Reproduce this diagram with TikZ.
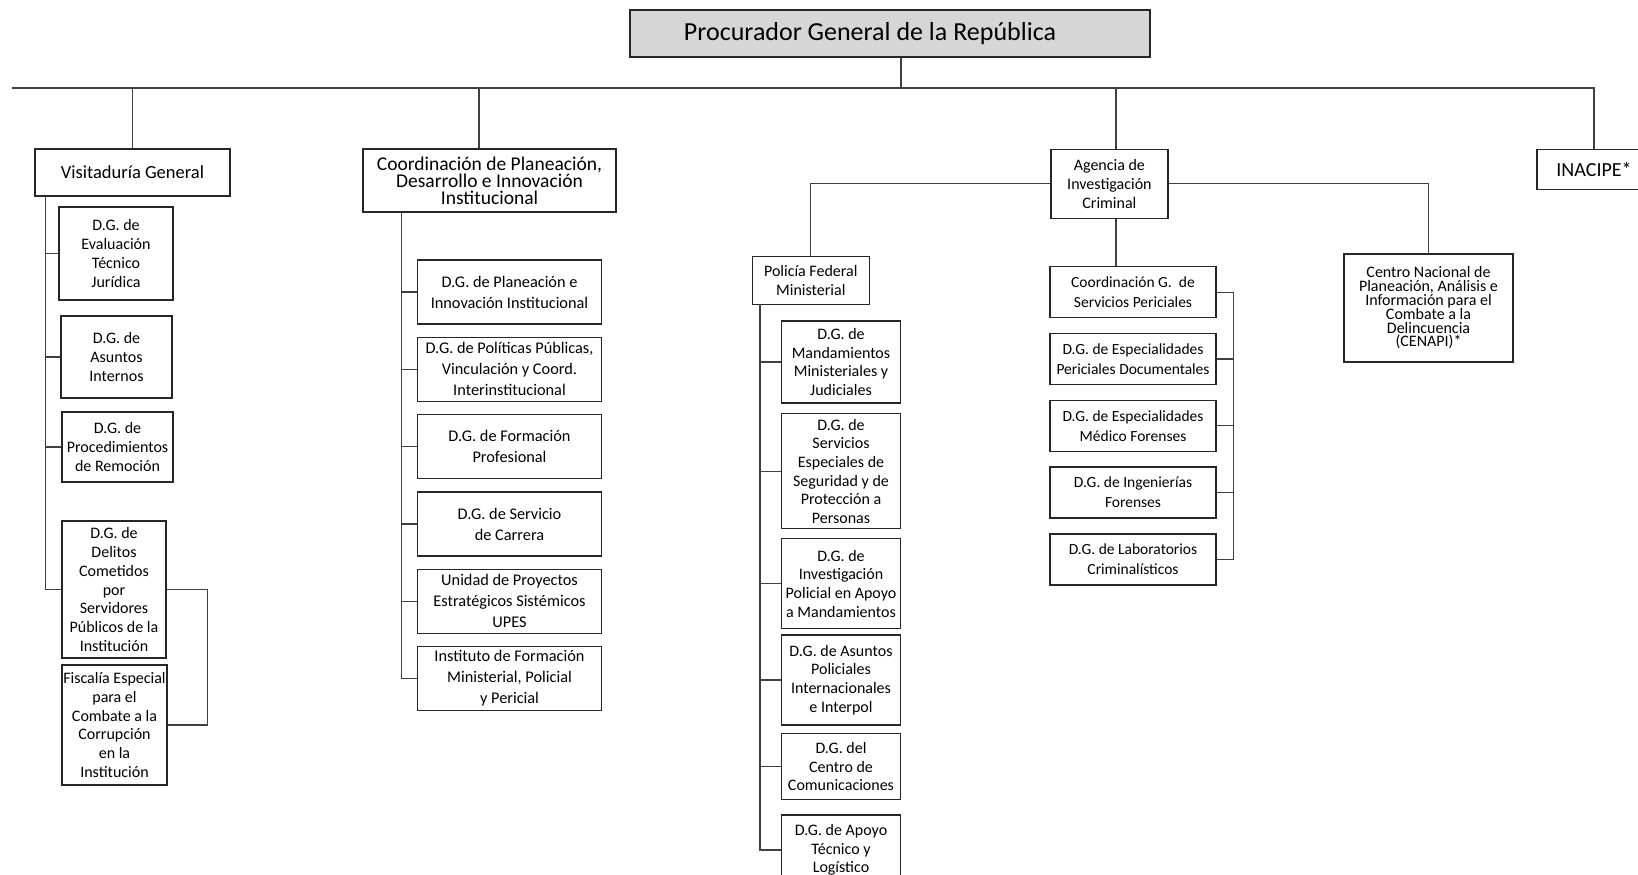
\documentclass[tikz,border=0pt]{standalone}
\usepackage{fontspec}
\setmainfont{Carlito}
\usetikzlibrary{positioning}
\definecolor{chiefgray}{HTML}{D6D6D6}
\tikzset{
  unit/.style={draw=black!85, line width=1.3pt, align=center, inner sep=1pt},
  boxsize/.style 2 args={minimum width=#1, minimum height=#2},
  chief/.style={unit, fill=chiefgray, font=\fontsize{26}{30}\selectfont},
  head/.style={unit, font=\fontsize{18.5}{17}\selectfont},
  leaf/.style={unit, font=\fontsize{16}{18.7}\selectfont},
  leafwide/.style={unit, font=\fontsize{16.3}{21}\selectfont},
  leafsmall/.style={unit, font=\fontsize{15.5}{20}\selectfont},
  link/.style={draw=black!75, line width=1.2pt}
}
\begin{document}
\begin{tikzpicture}[x=1pt, y=-1pt, node distance=12pt]
  \useasboundingbox (0,0) rectangle (1638,875);

  % Bus
  \coordinate (busL) at (12,88);
  \coordinate (d0) at (901,88);
  \coordinate (d1) at (132.5,88);
  \coordinate (d2) at (479,88);
  \coordinate (d3) at (1116,88);
  \coordinate (busR) at (1594,88);

  % Procurador
  \node[chief, boxsize={520pt}{47pt}] (pgr) at (890,33.5) {Procurador General de la República\hspace*{40pt}};

  % Visitaduria
  \node[head, boxsize={195pt}{47pt}] (vg) at (132.5,172.5) {Visitaduría General};
  \node[leaf, boxsize={114pt}{93pt}] (vg1) at (116,253.5) {D.G. de\\Evaluación\\Técnico\\Jurídica};
  \node[leaf, boxsize={111pt}{82pt}] (vg2) at (116.5,357) {D.G. de\\Asuntos\\Internos};
  \node[leaf, boxsize={111pt}{70pt}] (vg3) at (117.5,447) {D.G. de\\Procedimientos\\de Remoción};
  \node[leaf, boxsize={104pt}{137pt}] (vg4) at (114,589.5) {D.G. de\\Delitos\\Cometidos\\por\\Servidores\\Públicos de la\\Institución};
  \node[leaf, boxsize={105pt}{120pt}] (vg5) at (114.5,725) {Fiscalía Especial\\para el\\Combate a la\\Corrupción\\en la\\Institución};

  % Coordinacion de Planeacion
  \node[head, font=\fontsize{19.5}{17}\selectfont, boxsize={253pt}{63pt}] (cp) at (489.5,180.5) {Coordinación de Planeación,\\Desarrollo e Innovación\\Institucional};
  \node[leafwide, boxsize={184pt}{64pt}] (cp1) at (509.5,292) {D.G. de Planeación e\\Innovación Institucional};
  \node[leafwide, boxsize={184pt}{64pt}, below=of cp1] (cp2) {D.G. de Políticas Públicas,\\Vinculación y Coord.\\Interinstitucional};
  \node[leafwide, boxsize={184pt}{64pt}, below=of cp2] (cp3) {D.G. de Formación\\Profesional};
  \node[leafwide, boxsize={184pt}{64pt}, below=of cp3] (cp4) {D.G. de Servicio\\de Carrera};
  \node[leafwide, boxsize={184pt}{64pt}, below=of cp4] (cp5) {Unidad de Proyectos\\Estratégicos Sistémicos\\UPES};
  \node[leafwide, boxsize={184pt}{64pt}, below=of cp5] (cp6) {Instituto de Formación\\Ministerial, Policial\\y Pericial};

  % Agencia de Investigacion Criminal
  \node[head, font=\fontsize{16}{19}\selectfont, boxsize={117pt}{69pt}] (aic) at (1109.4,183.7) {Agencia de\\Investigación\\Criminal};
  \node[head, font=\fontsize{16}{19}\selectfont, boxsize={117pt}{48pt}] (pfm) at (810.8,280.2) {Policía Federal\\Ministerial};
  \node[leaf, boxsize={119pt}{82pt}] (pf1) at (841,362) {D.G. de\\Mandamientos\\Ministeriales y\\Judiciales};
  \node[leaf, boxsize={119pt}{115pt}] (pf2) at (841,471.3) {D.G. de\\Servicios\\Especiales de\\Seguridad y de\\Protección a\\Personas};
  \node[leaf, boxsize={119pt}{90pt}] (pf3) at (841,583.7) {D.G. de\\Investigación\\Policial en Apoyo\\a Mandamientos};
  \node[leaf, boxsize={119pt}{90pt}] (pf4) at (841,680) {D.G. de Asuntos\\Policiales\\Internacionales\\e Interpol};
  \node[leaf, boxsize={119pt}{66pt}] (pf5) at (841,766.6) {D.G. del\\Centro de\\Comunicaciones};
  \node[leaf, boxsize={119pt}{70pt}] (pf6) at (841,850) {D.G. de Apoyo\\Técnico y\\Logístico};

  \node[leafsmall, boxsize={166pt}{51pt}] (cgs) at (1133,292.2) {Coordinación G.~~de\\Servicios Periciales};
  \node[leafsmall, boxsize={166pt}{51pt}, below=14.5pt of cgs] (esp) {D.G. de Especialidades\\Periciales Documentales};
  \node[leafsmall, boxsize={166pt}{51pt}, below=14.5pt of esp] (med) {D.G. de Especialidades\\Médico Forenses};
  \node[leafsmall, boxsize={166pt}{51pt}, below=14.5pt of med] (ing) {D.G. de Ingenierías\\Forenses};
  \node[leafsmall, boxsize={166pt}{51pt}, below=14.5pt of ing] (lab) {D.G. de Laboratorios\\Criminalísticos};

  \node[head, font=\fontsize{16}{13.8}\selectfont, boxsize={169pt}{108pt}] (cen) at (1428.5,308) {Centro Nacional de\\Planeación, Análisis e\\Información para el\\Combate a la\\Delincuencia\\(CENAPI)*};

  % INACIPE
  \node[head, font=\fontsize{20}{24}\selectfont, boxsize={114pt}{40pt}] (ina) at (1594,169.3) {INACIPE*};

  % Connections
  \draw[link] (busL) -- (busR) -- (ina.north);
  \draw[link] (d0 |- pgr.south) -- (d0);
  \draw[link] (d1) -- (vg.north);
  \draw[link] (d2) -- (d2 |- cp.north);
  \draw[link] (d3) -- (d3 |- aic.north);

  \coordinate (vgt) at (45.3,196);
  \draw[link] (vgt) |- (vg4.west);
  \foreach \n in {vg1,vg2,vg3} \draw[link] (vgt |- \n.west) -- (\n.west);
  \draw[link] (vg4.east) -- ++(41,0) |- (vg5.east);

  \coordinate (cpt) at (401.7,212);
  \draw[link] (cpt) |- (cp6.west);
  \foreach \n in {cp1,cp2,cp3,cp4,cp5} \draw[link] (cpt |- \n.west) -- (\n.west);

  \draw[link] (aic.west) -| (pfm.north);
  \draw[link] (aic.east) -| (cen.north);
  \draw[link] (d3 |- aic.south) -- (d3 |- cgs.north);

  \coordinate (pft) at (760,304.4);
  \draw[link] (pft) |- (pf6.west);
  \foreach \n in {pf1,pf2,pf3,pf4,pf5} \draw[link] (pft |- \n.west) -- (\n.west);

  \draw[link] (cgs.east) -- ++(16.7,0) coordinate (cgr) |- (lab.east);
  \foreach \n in {esp,med,ing} \draw[link] (cgr |- \n.east) -- (\n.east);

\end{tikzpicture}
\end{document}
